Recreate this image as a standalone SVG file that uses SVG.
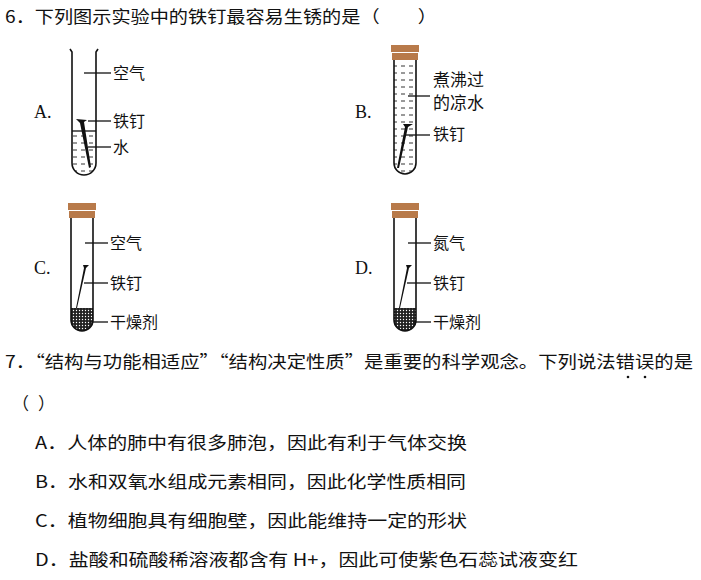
<svg xmlns="http://www.w3.org/2000/svg" width="701" height="580" viewBox="0 0 701 580">
<style>
text{font-family:"Noto Sans CJK SC","Liberation Serif",serif;font-size:17px;fill:#111}
.l{font-family:"Liberation Serif","Noto Sans CJK SC",serif;font-size:18px}
.s{font-size:16px}
.t{fill:none;stroke:#111;stroke-width:1.6}
.ln{stroke:#111;stroke-width:1.3}
.st{fill:#b87a4a}
.n{fill:#111}
</style>
<defs>
<pattern id="dash" width="8" height="7" patternUnits="userSpaceOnUse"><line x1="1" y1="3" x2="5" y2="3" stroke="#333" stroke-width="1"/></pattern>
<pattern id="dots" width="3" height="3" patternUnits="userSpaceOnUse"><rect width="3" height="3" fill="#222"/><circle cx="1.5" cy="1.5" r="0.7" fill="#fff"/></pattern>
</defs>
<rect width="701" height="580" fill="#fff"/>
<text x="5" y="23" textLength="432" lengthAdjust="spacingAndGlyphs">6．下列图示实验中的铁钉最容易生锈的是（　　）</text>

<g id="A">
<text class="l" x="34" y="118">A.</text>
<path d="M72,131 L96,131 L96,163 A12,12 0 0 1 72,163 Z" fill="url(#dash)"/>
<line class="ln" x1="72" y1="131" x2="96" y2="131"/>
<path class="t" d="M70,49 L72,52 L72,163 A12,12 0 0 0 96,163 L96,52 L98,49"/>
<polygon class="n" points="76,119 87,120 84,122 91,167 89,168 80,123"/>
<line class="ln" x1="84" y1="73" x2="111" y2="73"/>
<line class="ln" x1="88" y1="121" x2="111" y2="121"/>
<line class="ln" x1="88" y1="147" x2="111" y2="147"/>
<text class="s" x="113" y="79">空气</text>
<text class="s" x="113" y="127">铁钉</text>
<text class="s" x="113" y="153">水</text>
</g>

<g id="B">
<text class="l" x="355" y="118">B.</text>
<path d="M394,60 L416,60 L416,163 A11,11 0 0 1 394,163 Z" fill="url(#dash)"/>
<path class="t" d="M394,60 L394,163 A11,11 0 0 0 416,163 L416,60"/>
<rect class="st" x="391" y="45" width="28" height="7"/>
<rect class="st" x="392" y="53" width="26" height="7"/>
<polygon class="n" points="403,124 413,124 408,127 399,168 397,168 405,127"/>
<line class="ln" x1="408" y1="96" x2="430" y2="96"/>
<line class="ln" x1="406" y1="135" x2="430" y2="135"/>
<text x="433" y="86" font-size="14.5">煮沸过</text>
<text x="433" y="109" font-size="14.5">的凉水</text>
<text class="s" x="433" y="140">铁钉</text>
</g>

<g id="C">
<text class="l" x="34" y="274">C.</text>
<path d="M71,308 L93,308 L93,320 A11,11 0 0 1 71,320 Z" fill="url(#dots)"/>
<path class="t" d="M71,218 L71,320 A11,11 0 0 0 93,320 L93,218"/>
<rect class="st" x="68" y="203" width="28" height="7"/>
<rect class="st" x="69" y="211" width="26" height="7"/>
<polygon class="n" points="83,265 89,265 86,268 77,308 76,308 84,268"/>
<line class="ln" x1="85" y1="243" x2="108" y2="243"/>
<line class="ln" x1="84" y1="283" x2="108" y2="283"/>
<line class="ln" x1="90" y1="322" x2="108" y2="322"/>
<text class="s" x="110" y="249">空气</text>
<text class="s" x="110" y="289">铁钉</text>
<text class="s" x="110" y="328">干燥剂</text>
</g>

<g id="D">
<text class="l" x="355" y="274">D.</text>
<path d="M394,308 L416,308 L416,320 A11,11 0 0 1 394,320 Z" fill="url(#dots)"/>
<path class="t" d="M394,218 L394,320 A11,11 0 0 0 416,320 L416,218"/>
<rect class="st" x="391" y="203" width="28" height="7"/>
<rect class="st" x="392" y="211" width="26" height="7"/>
<polygon class="n" points="406,265 412,265 409,268 400,308 399,308 407,268"/>
<line class="ln" x1="408" y1="243" x2="431" y2="243"/>
<line class="ln" x1="407" y1="283" x2="431" y2="283"/>
<line class="ln" x1="413" y1="322" x2="431" y2="322"/>
<text class="s" x="433" y="249">氮气</text>
<text class="s" x="433" y="289">铁钉</text>
<text class="s" x="433" y="328">干燥剂</text>
</g>

<text x="5" y="368" textLength="688" lengthAdjust="spacingAndGlyphs">7．“结构与功能相适应”“结构决定性质”是重要的科学观念。下列说法错误的是</text>
<circle cx="628" cy="377" r="1.3" fill="#111"/>
<circle cx="645" cy="377" r="1.3" fill="#111"/>
<text x="12" y="410" textLength="43" lengthAdjust="spacing">（ ）</text>
<text x="35" y="449" textLength="432" lengthAdjust="spacingAndGlyphs">A．人体的肺中有很多肺泡，因此有利于气体交换</text>
<text x="35" y="488" textLength="431" lengthAdjust="spacingAndGlyphs">B．水和双氧水组成元素相同，因此化学性质相同</text>
<text x="35" y="527" textLength="432" lengthAdjust="spacingAndGlyphs">C．植物细胞具有细胞壁，因此能维持一定的形状</text>
<text x="35" y="566" textLength="543" lengthAdjust="spacingAndGlyphs">D．盐酸和硫酸稀溶液都含有 H+，因此可使紫色石蕊试液变红</text>
</svg>
